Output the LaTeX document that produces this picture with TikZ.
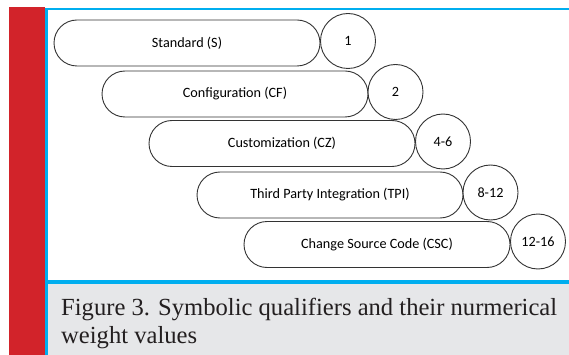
\documentclass[tikz,border=0pt]{standalone}
\usepackage{fontspec}
\setmainfont{Liberation Serif}
\newfontfamily\pillfont{Carlito}
\usetikzlibrary{shapes.misc}
\definecolor{barred}{HTML}{D2232A}
\definecolor{frameblue}{HTML}{00AEEF}
\definecolor{capgray}{HTML}{E6E7E9}
\definecolor{captext}{HTML}{231F20}
\definecolor{linegray}{HTML}{333333}
\tikzset{
  pill/.style={rounded rectangle, draw=linegray, line width=0.9pt, fill=white,
    minimum width=266pt, minimum height=46pt, inner sep=0pt,
    font=\pillfont\fontsize{14.2}{16}\selectfont, text=black},
  wcircle/.style={circle, draw=linegray, line width=0.9pt, fill=white,
    minimum size=55pt, inner sep=0pt,
    font=\pillfont\fontsize{14.2}{16}\selectfont, text=black},
  captionline/.style={anchor=base west, inner sep=0pt, text=captext,
    font=\fontsize{24.6}{28}\selectfont}
}
\begin{document}
\begin{tikzpicture}[x=1pt,y=-1pt]
\useasboundingbox (0,0) rectangle (569,355);
% frame
\fill[barred] (9,7) rectangle (45,355);
\fill[capgray] (47,284) rectangle (569,355);
\fill[frameblue] (45,8) rectangle (569,10.5);
\fill[frameblue] (45,8) rectangle (47.5,355);
\fill[frameblue] (45,279.5) rectangle (569,284);
% pills
\node[pill] (s) at (187,43) {Standard (S)};
\node[pill] (cf) at (235,94) {Configuration (CF)};
\node[pill] (cz) at (282,143.5) {Customization (CZ)};
\node[pill] (tpi) at (330,195) {Third Party Integration (TPI)};
\node[pill] (csc) at (377,244.5) {Change Source Code (CSC)};
% circles
\node[wcircle] (w1) at (348,41) {1};
\node[wcircle] (w2) at (395.5,92) {2};
\node[wcircle] (w3) at (443,141.5) {4-6};
\node[wcircle] (w4) at (490.5,192.5) {8-12};
\node[wcircle] (w5) at (538,241.5) {12-16};
% caption
\node[captionline] (cap1) at (61,315) {Figure 3. Symbolic qualifiers and their nurmerical};
\node[captionline] (cap2) at (61,343) {weight values};
\end{tikzpicture}
\end{document}
